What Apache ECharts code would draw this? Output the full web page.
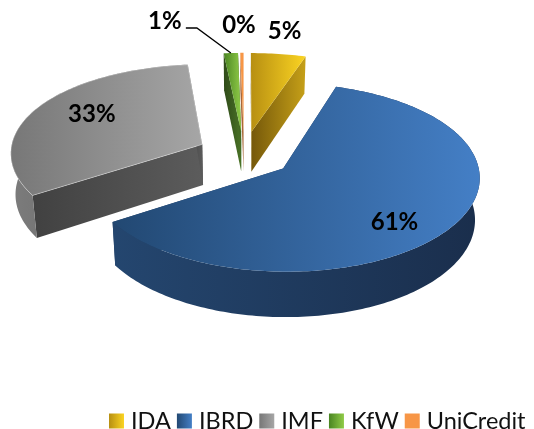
<!DOCTYPE html>
<html>
<head>
<meta charset="utf-8">
<script src="https://cdn.jsdelivr.net/npm/echarts@6/dist/echarts.min.js"></script>
<style>
html, body { margin: 0; padding: 0; background: #fff; }
#chart { width: 534px; height: 429px; }
</style>
</head>
<body>
<div id="chart"></div>
<script>
// Data (labels show the rounded share)
let categories = ['IDA', 'IBRD', 'IMF', 'KfW', 'UniCredit'];
let shares = [5.0, 60.9, 32.5, 1.3, 0.3];

//--------------------Projection--------------------
let center_x = 244, center_y = 154;
let radius_x = 195, radius_y = 93;
let perspective = 0.085;
let back_squash = 0.03;
let depth = 41;
let bottom_shrink = 0.98;
let explode = [0.25, 0.25, 0.24, 0.25, 0.25];
let slice_scale = [1, 0.99, 0.985, 1, 1];
// back to front
let draw_order = [2, 3, 4, 0, 1];

//---------------------Colors---------------------
let top_colors = [['#b78f12', '#fbd422'], ['#224872', '#447fc6'], ['#777777', '#a6a6a6'], ['#4a8522', '#90cb48'], ['#f79646', '#f79646']];
let rim_colors = [['#6e5208', '#c29c16'], ['#24466f', '#1a2e4c'], ['#7c7c7c', '#585858'], ['#33501c', '#33501c'], ['#a8683a', '#a8683a']];
let cut_colors = [['#75580a', '#c6a018'], ['#1f3d63', '#1f3d63'], ['#414141', '#5c5c5c'], ['#2f4a19', '#4a7326'], ['#a8683a', '#a8683a']];
let top_edge = [null, null, 'rgba(255,255,255,0.45)', null, null];
let label_font = 'bold 24px Lato';
// label position: distance along the middle of the slice, then a nudge in px
let label_radius = [1, 0.72, 0.64, 1, 1];
let label_nudge = [[6, -23], [-6, 11], [-4, -6], [-66, -32], [-3, -28]];

function gradient(pair) {
    return new echarts.graphic.LinearGradient(0, 0, 1, 0, [
        {offset: 0, color: pair[0]},
        {offset: 1, color: pair[1]}
    ]);
}

function project(u, v, low) {
    let s = 1 / (1 + perspective * v);
    let x = radius_x * u * s;
    let h = radius_y * v * s;
    if (v > 0) {
        h = h * (1 - back_squash * v);
    }
    let y = center_y - h;
    if (low) {
        x = x * bottom_shrink;
        y = y + depth * s;
    }
    return [center_x + x, y];
}

// turn the shares into clockwise angles from the top
let start_angles = [];
let running = 0;
let total = shares.reduce(function (a, b) { return a + b; }, 0);
shares.forEach(function (v) {
    start_angles.push(running);
    running += v / total * 2 * Math.PI;
});

function renderSlice(i) {
    let a0 = start_angles[i];
    let a1 = a0 + shares[i] / total * 2 * Math.PI;
    let mid = (a0 + a1) / 2;
    let ox = explode[i] * Math.sin(mid), oy = explode[i] * Math.cos(mid);
    let rim = function (a, r) {
        return [ox + r * slice_scale[i] * Math.sin(a), oy + r * slice_scale[i] * Math.cos(a)];
    };
    let steps = Math.max(2, Math.ceil((a1 - a0) / 0.02));
    let arc_top = [], arc_low = [];
    for (let k = 0; k <= steps; k++) {
        let p = rim(a0 + (a1 - a0) * k / steps, 1);
        arc_top.push(project(p[0], p[1], false));
        arc_low.push(project(p[0], p[1], true));
    }
    let tip_top = project(ox, oy, false);
    let tip_low = project(ox, oy, true);
    let last = arc_top.length - 1;
    let children = [
        {type: 'polygon', shape: {points: [tip_top, arc_top[0], arc_low[0], tip_low]}, style: {fill: gradient(cut_colors[i])}},
        {type: 'polygon', shape: {points: [tip_top, arc_top[last], arc_low[last], tip_low]}, style: {fill: gradient(cut_colors[i])}}
    ];
    // outer wall only shows on slices that reach the front of the pie
    if (Math.cos(mid) < 0.9) {
        children.push({type: 'polygon', shape: {points: arc_top.concat(arc_low.slice().reverse())}, style: {fill: gradient(rim_colors[i])}});
    }
    children.push({
        type: 'polygon',
        shape: {points: [tip_top].concat(arc_top)},
        style: {fill: gradient(top_colors[i]), stroke: top_edge[i], lineWidth: 0.8}
    });
    // label
    let lp = rim(mid, label_radius[i]);
    let at = project(lp[0], lp[1], false);
    let tx = at[0] + label_nudge[i][0], ty = at[1] + label_nudge[i][1];
    if (categories[i] === 'KfW') {
        children.push({type: 'polyline', shape: {points: [[tx + 21, ty + 7], [tx + 32, ty + 7], at]}, style: {stroke: '#000', lineWidth: 1.3, fill: null}});
    }
    children.push({type: 'text', style: {text: Math.round(shares[i]) + '%', x: tx, y: ty, font: label_font, fill: '#000', align: 'center', verticalAlign: 'middle'}});
    return {type: 'group', children: children};
}

//------------------Generate Graph------------------
let chart = echarts.init(document.getElementById('chart'));
let series = draw_order.map(function (i) {
    return {
        type: 'custom',
        name: categories[i],
        coordinateSystem: 'none',
        silent: true,
        animation: false,
        itemStyle: {color: gradient(top_colors[i])},
        data: [shares[i]],
        renderItem: function () { return renderSlice(i); }
    };
});
chart.setOption({
    backgroundColor: '#fff',
    animation: false,
    legend: {
        data: categories.map(function (c, i) { return {name: c, icon: 'rect', itemStyle: {color: gradient(top_colors[i])}}; }),
        left: 109,
        top: 409,
        padding: 0,
        itemWidth: 15,
        itemHeight: 15,
        itemGap: 6,
        selectedMode: false,
        textStyle: {fontFamily: 'Lato', fontSize: 23.5, color: '#111', padding: [0, 0, 0, 2]}
    },
    series: series
});
</script>
</body>
</html>
